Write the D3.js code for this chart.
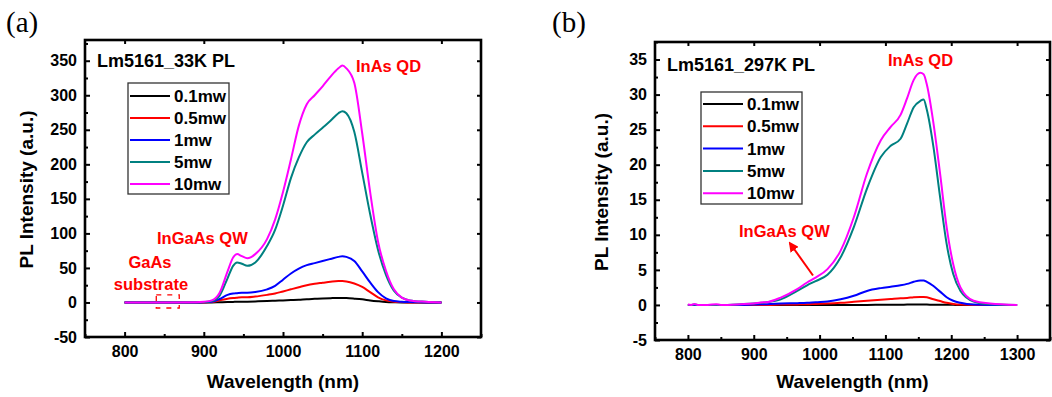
<!DOCTYPE html>
<html>
<head>
<meta charset="utf-8">
<script src="https://cdn.jsdelivr.net/npm/d3@7.9.0/dist/d3.min.js"></script>
<style>
  html, body { margin: 0; padding: 0; background: #fff; }
  svg { display: block; font-family: "Liberation Sans", Arial, sans-serif; }
  .tick text { font-weight: bold; font-size: 16px; fill: #000; font-family: "Liberation Sans", Arial, sans-serif; }
  .tick line { stroke: #000; stroke-width: 2; }
  .domain { display: none; }
</style>
</head>
<body>
<svg id="chart" width="1052" height="397"></svg>
<script>
// series names and colours, same for both panels
const seriesNames = ['0.1mw', '0.5mw', '1mw', '5mw', '10mw'];
const seriesColors = ['#000000', '#ff0000', '#0000ff', '#008080', '#ff00ff'];

// panel (a): 33 K spectra
const wlA = [800, 850, 890, 900, 910, 920, 930, 937, 942, 948, 955, 965, 980, 990, 1000, 1010, 1020, 1030,
  1040, 1050, 1060, 1070, 1075, 1080, 1090, 1100, 1110, 1120, 1130, 1140, 1150, 1160, 1180, 1200];
const a01mw = [0, 0, 0, 0, 0, 0.3, 0.6, 0.8, 1, 1, 1.2, 1.5, 2, 2.5, 3, 3.5, 4, 4.8,
  5.3, 5.8, 6.2, 6.5, 6.5, 6.3, 5.5, 4.5, 3, 1.8, 0.8, 0.3, 0, 0, 0, 0];
const a05mw = [0, 0, 0, 0, 0.5, 3, 5.5, 6.5, 7, 7.5, 7.5, 8.5, 11, 13, 16, 19, 22, 25,
  27, 28.5, 30, 31, 31, 30.5, 27.5, 22.5, 15, 7.5, 3, 1, 0.5, 0, 0, 0];
const a1mw = [0, 0, 0, 0.3, 1, 5, 11, 13, 13.5, 14, 14, 15, 19, 24, 33, 42, 49, 54,
  57, 60, 63, 66, 67, 66, 60, 45, 29, 15, 6, 2, 1, 0.5, 0, 0];
const a5mw = [0, 0, 0.2, 0.5, 2, 10, 35, 53, 58, 56, 53, 58, 82, 105, 140, 180, 210, 232,
  243, 253, 263, 274, 277, 274, 247, 188, 128, 76, 40, 17, 7, 3, 1, 0];
const a10mw = [0, 0, 0.3, 1, 3, 14, 45, 65, 70, 67, 64, 70, 92, 120, 160, 207, 256, 287,
  300, 313, 327, 339, 343, 339, 318, 245, 160, 88, 46, 19, 7, 3, 1, 0];

// panel (b): 297 K spectra
const wlB = [800, 805, 810, 815, 830, 843, 850, 880, 900, 911, 920, 941, 966, 981, 994, 1012, 1032, 1052,
  1072, 1093, 1108, 1123, 1133, 1143, 1153, 1158, 1163, 1173, 1183, 1193, 1203, 1214, 1234, 1259, 1300];
const b01mw = [0, 0, 0, 0, 0, 0, 0, 0, 0, 0, 0, 0, 0, 0, 0, 0, 0, 0,
  0, 0.02, 0.03, 0.04, 0.05, 0.06, 0.06, 0.06, 0.05, 0.04, 0.03, 0.02, 0.01, 0, 0, 0, 0];
const b05mw = [0, 0, 0, 0, 0, 0, 0, 0, 0, 0, 0, 0.05, 0.08, 0.1, 0.15, 0.2, 0.3, 0.45,
  0.6, 0.75, 0.85, 0.95, 1.0, 1.1, 1.15, 1.15, 1.1, 0.8, 0.55, 0.3, 0.15, 0.05, 0, 0, 0];
const b1mw = [0, 0, 0, 0, 0, 0, 0, 0, 0.05, 0.1, 0.1, 0.2, 0.25, 0.3, 0.4, 0.5, 0.8, 1.3,
  2.0, 2.4, 2.6, 2.8, 3.0, 3.3, 3.5, 3.5, 3.3, 2.7, 1.9, 1.1, 0.6, 0.3, 0.05, 0, 0];
const b5mw = [0, 0, 0.05, 0, 0, 0, 0, 0.1, 0.2, 0.3, 0.4, 0.8, 2.0, 2.8, 3.4, 4.3, 6.8, 11.1,
  16.6, 21.1, 22.7, 23.7, 25.9, 28.2, 29.1, 29.3, 27.8, 22.5, 15.4, 8.7, 4.4, 2.0, 0.5, 0.1, 0];
const b10mw = [0.05, 0, 0.15, 0, 0, 0.1, 0, 0.1, 0.2, 0.35, 0.4, 1.05, 2.25, 3.2, 3.9, 5.1, 7.75, 12.5,
  18.75, 23.5, 25.4, 27.1, 29.5, 32.1, 33.1, 32.9, 31.4, 25.9, 18.75, 11.1, 5.8, 2.5, 0.6, 0.2, 0];

const svg = d3.select('#chart');
const fmt = v => String(Math.round(v)); // plain hyphen for negatives, like the original

function drawPanel(p) {
  const x = d3.scaleLinear().domain(p.xDomain).range([p.left, p.right]);
  const y = d3.scaleLinear().domain(p.yDomain).range([p.bottom, p.top]);
  const g = svg.append('g');

  const xMajor = d3.range(p.xTicks[0], p.xTicks[1] + 1, p.xTicks[2]);
  const xMinor = d3.range(p.xDomain[0], p.xDomain[1] + 0.001, p.xTicks[2] / 2).filter(v => !xMajor.includes(v));
  const yMajor = d3.range(p.yTicks[0], p.yTicks[1] + 0.001, p.yTicks[2]);
  const yMinor = d3.range(p.yDomain[0], p.yDomain[1] + 0.001, p.yTicks[2] / 2).filter(v => !yMajor.some(m => Math.abs(m - v) < 1e-6));

  // bottom + left with labels, ticks pointing inward
  g.append('g').attr('transform', `translate(0,${p.bottom})`)
    .call(d3.axisBottom(x).tickValues(xMajor).tickSizeInner(-5).tickSizeOuter(0).tickPadding(9).tickFormat(fmt));
  g.append('g').attr('transform', `translate(0,${p.bottom})`)
    .call(d3.axisBottom(x).tickValues(xMinor).tickSizeInner(-3).tickSizeOuter(0).tickFormat(''));
  g.append('g').attr('transform', `translate(${p.left},0)`)
    .call(d3.axisLeft(y).tickValues(yMajor).tickSizeInner(-5).tickSizeOuter(0).tickPadding(8).tickFormat(fmt));
  g.append('g').attr('transform', `translate(${p.left},0)`)
    .call(d3.axisLeft(y).tickValues(yMinor).tickSizeInner(-3).tickSizeOuter(0).tickFormat(''));
  // mirrored top + right
  g.append('g').attr('transform', `translate(0,${p.top})`)
    .call(d3.axisTop(x).tickValues(xMajor).tickSizeInner(-4).tickSizeOuter(0).tickFormat(''));
  g.append('g').attr('transform', `translate(${p.right},0)`)
    .call(d3.axisRight(y).tickValues(yMajor).tickSizeInner(-4).tickSizeOuter(0).tickFormat(''));

  // curves
  const line = d3.line()
    .x((d, i) => x(p.wl[i]))
    .y(d => y(d))
    .curve(d3.curveMonotoneX);
  p.series.forEach((vals, i) => {
    g.append('path')
      .attr('d', line(vals))
      .attr('fill', 'none')
      .attr('stroke', seriesColors[i])
      .attr('stroke-width', 2);
  });

  // frame
  g.append('rect')
    .attr('x', p.left).attr('y', p.top)
    .attr('width', p.right - p.left).attr('height', p.bottom - p.top)
    .attr('fill', 'none').attr('stroke', '#000').attr('stroke-width', 2.6);

  // axis titles
  g.append('text')
    .attr('x', (p.left + p.right) / 2).attr('y', 388)
    .attr('text-anchor', 'middle')
    .attr('font-weight', 'bold').attr('font-size', 19)
    .text('Wavelength (nm)');
  g.append('text')
    .attr('transform', `translate(${p.yTitleX},${(p.top + p.bottom) / 2 + 1}) rotate(-90)`)
    .attr('text-anchor', 'middle')
    .attr('font-weight', 'bold').attr('font-size', 19)
    .text('PL Intensity (a.u.)');

  // panel letter
  g.append('text')
    .attr('x', p.letterX).attr('y', 32)
    .attr('font-family', '"Liberation Serif", "Times New Roman", serif')
    .attr('font-size', 29)
    .text(p.letter);

  // title inside plot
  g.append('text')
    .attr('x', p.titleX).attr('y', p.titleY)
    .attr('font-weight', 'bold').attr('font-size', 18)
    .text(p.title);

  // legend
  const lg = g.append('g');
  lg.append('rect')
    .attr('x', p.legend.x).attr('y', p.legend.y)
    .attr('width', p.legend.w).attr('height', p.legend.h)
    .attr('fill', '#fff').attr('stroke', '#333').attr('stroke-width', 1.3);
  seriesNames.forEach((name, i) => {
    const cy = p.legend.first + i * p.legend.step;
    lg.append('line')
      .attr('x1', p.legend.x + 2).attr('x2', p.legend.x + 42)
      .attr('y1', cy).attr('y2', cy)
      .attr('stroke', seriesColors[i]).attr('stroke-width', 2);
    lg.append('text')
      .attr('x', p.legend.x + 46).attr('y', cy + 6)
      .attr('font-weight', 'bold').attr('font-size', 17)
      .text(name);
  });

  return { g, x, y };
}

const A = drawPanel({
  left: 85, right: 481, top: 40, bottom: 337,
  xDomain: [750, 1250], yDomain: [-50, 380],
  xTicks: [800, 1200, 100], yTicks: [-50, 350, 50],
  wl: wlA, series: [a01mw, a05mw, a1mw, a5mw, a10mw],
  yTitleX: 33, letter: '(a)', letterX: 6,
  title: 'Lm5161_33K PL', titleX: 97, titleY: 67,
  legend: { x: 128, y: 83, w: 101, h: 111, first: 96, step: 22 }
});

const B = drawPanel({
  left: 655, right: 1050, top: 42, bottom: 340,
  xDomain: [750, 1350], yDomain: [-5, 37.5],
  xTicks: [800, 1300, 100], yTicks: [-5, 35, 5],
  wl: wlB, series: [b01mw, b05mw, b1mw, b5mw, b10mw],
  yTitleX: 608, letter: '(b)', letterX: 552,
  title: 'Lm5161_297K PL', titleX: 667, titleY: 71,
  legend: { x: 701, y: 92, w: 101, h: 112, first: 104, step: 22.3 }
});

// annotations, panel (a)
const red = '#ff0000';
function note(g, x, y, txt, anchor) {
  g.append('text').attr('x', x).attr('y', y)
    .attr('text-anchor', anchor || 'start')
    .attr('font-weight', 'bold').attr('font-size', 16.5)
    .attr('fill', red).text(txt);
}
note(A.g, 356, 72, 'InAs QD');
note(A.g, 157, 244, 'InGaAs QW');
note(A.g, 150, 268, 'GaAs', 'middle');
note(A.g, 151, 290, 'substrate', 'middle');
A.g.append('rect')
  .attr('x', A.x(840)).attr('y', A.y(11))
  .attr('width', A.x(869) - A.x(840)).attr('height', A.y(-8) - A.y(11))
  .attr('fill', 'none').attr('stroke', red).attr('stroke-width', 1.3)
  .attr('stroke-dasharray', '5,6');

// annotations, panel (b)
note(B.g, 888, 66, 'InAs QD');
note(B.g, 739, 237, 'InGaAs QW');
svg.append('defs').append('marker')
  .attr('id', 'arrow').attr('viewBox', '0 0 10 10')
  .attr('refX', 8).attr('refY', 5)
  .attr('markerWidth', 5).attr('markerHeight', 5)
  .attr('orient', 'auto')
  .append('path').attr('d', 'M0,0 L10,5 L0,10 z').attr('fill', red);
B.g.append('line')
  .attr('x1', B.x(990)).attr('y1', B.y(4.2))
  .attr('x2', B.x(955)).attr('y2', B.y(8.8))
  .attr('stroke', red).attr('stroke-width', 2)
  .attr('marker-end', 'url(#arrow)');
</script>
</body>
</html>
